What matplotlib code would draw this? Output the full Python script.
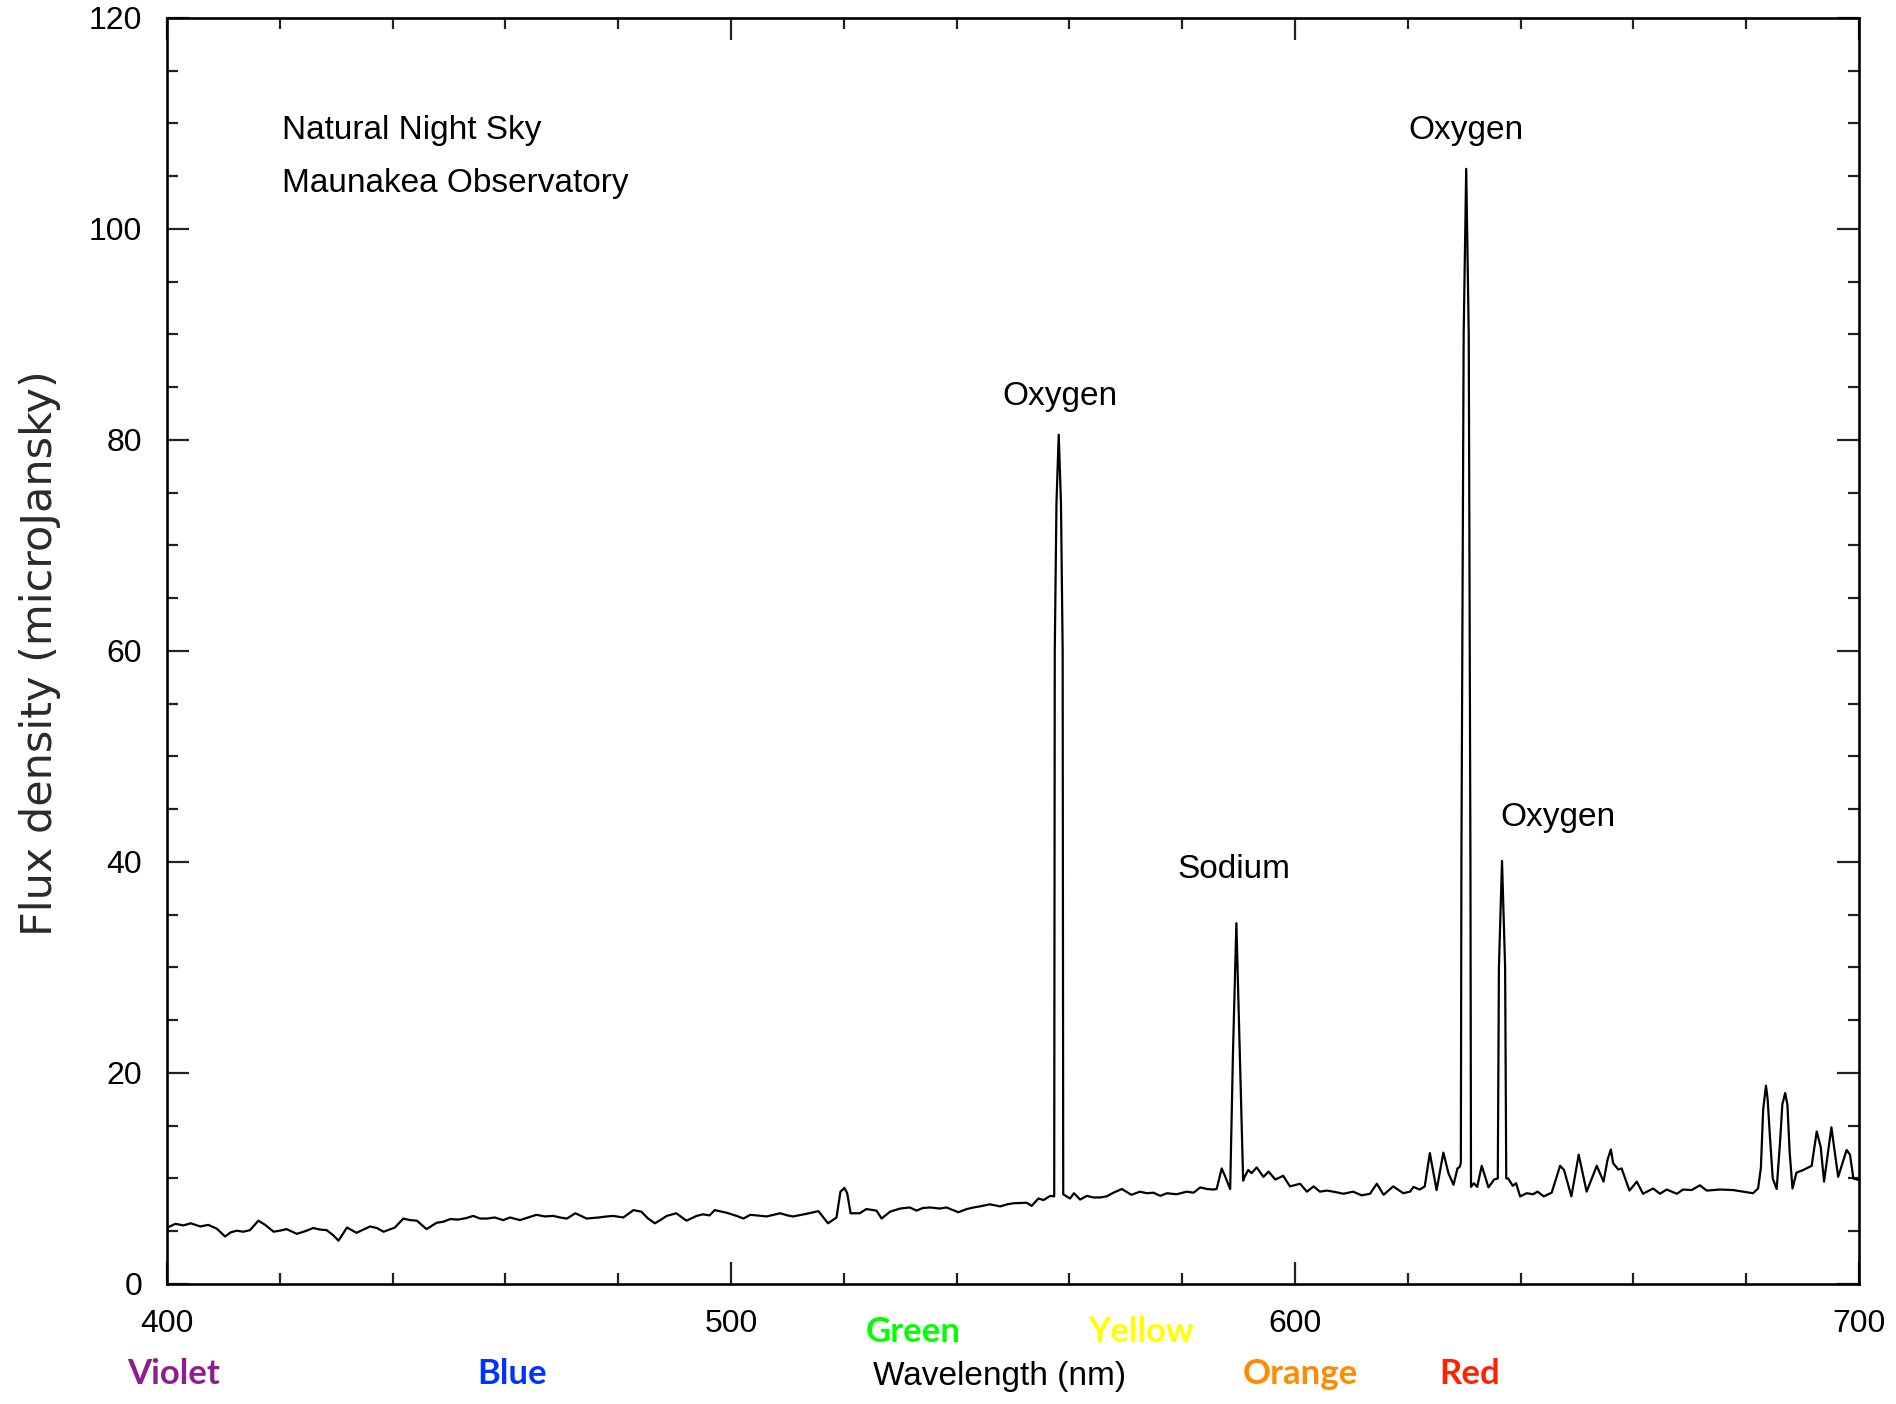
import matplotlib
matplotlib.use("Agg")
import matplotlib.pyplot as plt
from matplotlib.ticker import MultipleLocator

# spectrum (wavelength in nm, flux in microJansky)
wavelength_nm = [
    400.3, 401.5, 402.9, 404.2, 405.9, 407.3, 408.8, 410.3, 411.3, 412.4,
    413.5, 414.7, 416.2, 417.4, 418.9, 420.0, 421.2, 423.0, 424.5, 425.9,
    427.2, 428.3, 429.5, 430.4, 431.9, 433.6, 434.8, 436.0, 437.2, 438.4,
    440.4, 441.9, 443.1, 444.3, 446.0, 447.8, 449.0, 450.2, 451.6, 453.1,
    454.3, 455.5, 456.7, 458.1, 459.6, 460.8, 462.6, 464.0, 465.5, 467.0,
    468.5, 469.7, 470.9, 472.4, 474.4, 476.5, 478.0, 479.1, 480.9, 482.7,
    484.1, 485.3, 486.5, 487.6, 488.6, 490.3, 492.1, 493.9, 495.0, 496.2,
    497.1, 499.2, 501.0, 502.2, 503.4, 504.5, 506.3, 508.7, 510.0, 511.0,
    513.4, 515.5, 516.4, 517.2, 518.7, 519.4, 520.1, 520.6, 521.2, 522.8,
    524.0, 525.8, 526.7, 528.2, 530.0, 531.7, 532.9, 534.0, 535.3, 537.0,
    538.2, 540.3, 541.8, 543.0, 544.1, 545.9, 547.7, 549.0, 550.1, 552.4,
    553.3, 554.5, 555.4, 556.6, 557.3, 557.4, 557.7, 558.1, 558.5, 558.8,
    558.9, 559.5, 560.1, 560.8, 561.9, 563.1, 564.2, 565.4, 566.6, 567.8,
    569.3, 570.2, 571.0, 572.5, 573.7, 574.9, 576.1, 577.3, 579.0, 580.8,
    582.0, 583.2, 584.4, 585.5, 586.1, 587.0, 587.6, 588.2, 588.5, 589.0,
    589.6, 590.2, 590.8, 591.1, 591.7, 592.3, 593.2, 594.4, 595.3, 596.5,
    597.9, 599.1, 600.9, 602.1, 603.3, 604.4, 605.6, 606.8, 608.6, 610.3,
    611.8, 613.3, 614.5, 615.7, 617.4, 619.2, 620.4, 621.0, 622.1, 623.0,
    623.9, 625.1, 626.3, 627.2, 628.1, 628.8, 629.2, 629.4, 629.5, 629.9,
    630.35, 630.8, 631.1, 631.2, 631.7, 632.3, 633.1, 634.3, 635.3, 635.95,
    636.15, 636.7, 637.25, 637.45, 637.8, 638.6, 639.2, 639.9, 641.1, 642.2,
    643.0, 644.1, 645.5, 647.0, 647.7, 649.0, 650.3, 651.7, 653.5, 654.7,
    655.4, 656.0, 656.4, 657.3, 657.9, 659.3, 660.6, 661.7, 663.5, 664.7,
    665.9, 667.7, 668.8, 670.3, 671.8, 673.0, 675.3, 677.7, 679.5, 681.2,
    682.1, 682.6, 683.0, 683.5, 683.8, 684.2, 684.7, 685.4, 686.0, 686.4,
    686.9, 687.3, 687.7, 688.2, 688.9, 690.1, 691.6, 692.5, 693.2, 693.8,
    695.1, 696.3, 697.8, 698.4, 699.0, 700.0,
]
flux_ujy = [
    5.4, 5.7, 5.55, 5.75, 5.45, 5.6, 5.25, 4.5, 4.9, 5.05,
    4.95, 5.1, 6.0, 5.6, 4.95, 5.05, 5.2, 4.75, 5.0, 5.3,
    5.15, 5.1, 4.6, 4.1, 5.35, 4.85, 5.15, 5.45, 5.3, 4.95,
    5.35, 6.2, 6.05, 6.0, 5.2, 5.8, 5.9, 6.15, 6.1, 6.25,
    6.45, 6.2, 6.2, 6.3, 6.05, 6.3, 6.05, 6.3, 6.55, 6.4,
    6.45, 6.3, 6.2, 6.7, 6.2, 6.3, 6.4, 6.45, 6.3, 7.0,
    6.85, 6.2, 5.75, 6.1, 6.45, 6.7, 6.0, 6.45, 6.6, 6.5,
    7.0, 6.75, 6.45, 6.2, 6.55, 6.5, 6.4, 6.7, 6.5, 6.4,
    6.65, 6.9, 6.3, 5.75, 6.3, 8.75, 9.1, 8.6, 6.7, 6.7,
    7.1, 6.95, 6.2, 6.85, 7.15, 7.25, 6.95, 7.2, 7.25, 7.15,
    7.25, 6.8, 7.1, 7.25, 7.35, 7.55, 7.35, 7.55, 7.65, 7.7,
    7.4, 8.1, 7.95, 8.35, 8.3, 60.0, 74.0, 80.5, 74.0, 60.0,
    8.5, 8.3, 8.1, 8.6, 8.0, 8.35, 8.2, 8.2, 8.3, 8.65,
    9.0, 8.7, 8.45, 8.75, 8.6, 8.65, 8.35, 8.6, 8.5, 8.75,
    8.65, 9.15, 9.0, 8.95, 9.0, 10.95, 10.2, 9.4, 9.0, 22.0,
    34.2, 22.0, 9.8, 10.2, 10.8, 10.5, 11.05, 10.15, 10.65, 9.9,
    10.25, 9.25, 9.5, 8.75, 9.25, 8.75, 8.85, 8.75, 8.55, 8.75,
    8.4, 8.55, 9.5, 8.45, 9.25, 8.6, 8.75, 9.2, 8.95, 9.25,
    12.4, 8.9, 12.45, 10.5, 9.4, 10.95, 11.1, 11.5, 40.0, 90.0,
    105.7, 90.0, 40.0, 9.2, 9.55, 9.2, 11.2, 9.15, 9.9, 10.0,
    30.0, 40.1, 30.0, 10.0, 10.0, 9.3, 9.55, 8.3, 8.6, 8.5,
    8.75, 8.3, 8.65, 11.2, 10.8, 8.3, 12.25, 8.75, 11.2, 9.7,
    11.75, 12.75, 11.45, 10.85, 10.95, 8.85, 9.7, 8.55, 9.05, 8.55,
    8.95, 8.55, 8.95, 8.9, 9.35, 8.85, 8.95, 8.9, 8.75, 8.6,
    9.05, 11.0, 16.5, 18.8, 17.5, 14.0, 10.0, 9.0, 13.5, 17.0,
    18.1, 17.0, 12.5, 9.05, 10.55, 10.8, 11.2, 14.45, 13.0, 9.7,
    14.85, 10.15, 12.7, 12.25, 10.0, 9.85,
]

x_ticks = [400, 500, 600, 700]
y_ticks = [0, 20, 40, 60, 80, 100, 120]

emission_names = ["Oxygen", "Sodium", "Oxygen", "Oxygen"]
emission_x = [558.3, 589.1, 630.3, 646.6]
emission_y = [84.1, 39.3, 109.3, 44.2]

band_names = ["Green", "Yellow", "Violet", "Blue", "Orange", "Red"]
band_x = [532.3, 572.8, 401.2, 461.1, 600.9, 630.9]
band_colors = ["#00FF00", "#FFFF00", "#8E1E90", "#0033FF", "#FF8C00", "#FF2200"]

plt.rcParams['font.family'] = ['Liberation Sans', 'DejaVu Sans']

fig = plt.figure(figsize=(18.96, 14.04), dpi=100)
ax = fig.add_axes([0.0881, 0.0855, 0.8924, 0.9017])

ax.plot(wavelength_nm, flux_ujy, color="black", lw=1.6)

ax.set_xlim(400, 700)
ax.set_ylim(0, 120)
ax.set_xticks(x_ticks)
ax.set_yticks(y_ticks)
ax.xaxis.set_minor_locator(MultipleLocator(20))
ax.yaxis.set_minor_locator(MultipleLocator(5))
ax.tick_params(which="both", direction="in", top=True, right=True,
               width=1.6, labelsize=23, color="#222222")
ax.tick_params(which="major", length=16)
ax.tick_params(which="minor", length=8)
ax.tick_params(axis="x", pad=18)
ax.tick_params(axis="y", pad=18)
for s in ax.spines.values():
    s.set_linewidth(1.9)

# annotations inside the plot
ax.text(420.4, 109.3, "Natural Night Sky", fontsize=24, va="center", ha="left")
ax.text(420.4, 104.3, "Maunakea Observatory", fontsize=24, va="center", ha="left")
for name, x, y in zip(emission_names, emission_x, emission_y):
    ax.text(x, y, name, fontsize=24, ha="center", va="center")

# colour names under the axis
tr = ax.get_xaxis_transform()
for i, (name, x, c) in enumerate(zip(band_names, band_x, band_colors)):
    yy = -0.0379 if i < 2 else -0.0711
    ax.text(x, yy, name, transform=tr, color=c, fontsize=25,
            fontfamily="Lato", fontweight="bold", ha="center", va="center",
            clip_on=False)

fig.text(999.6 / 1896, 1 - 1377 / 1404, "Wavelength (nm)", fontsize=24,
         ha="center", va="center")
fig.text(40 / 1896, 1 - 653 / 1404, "Flux density (microJansky)",
         fontsize=31, fontfamily="DejaVu Sans", color="#2a2a2a",
         rotation=90, ha="center", va="center")

fig.savefig("out.png", dpi=100)
